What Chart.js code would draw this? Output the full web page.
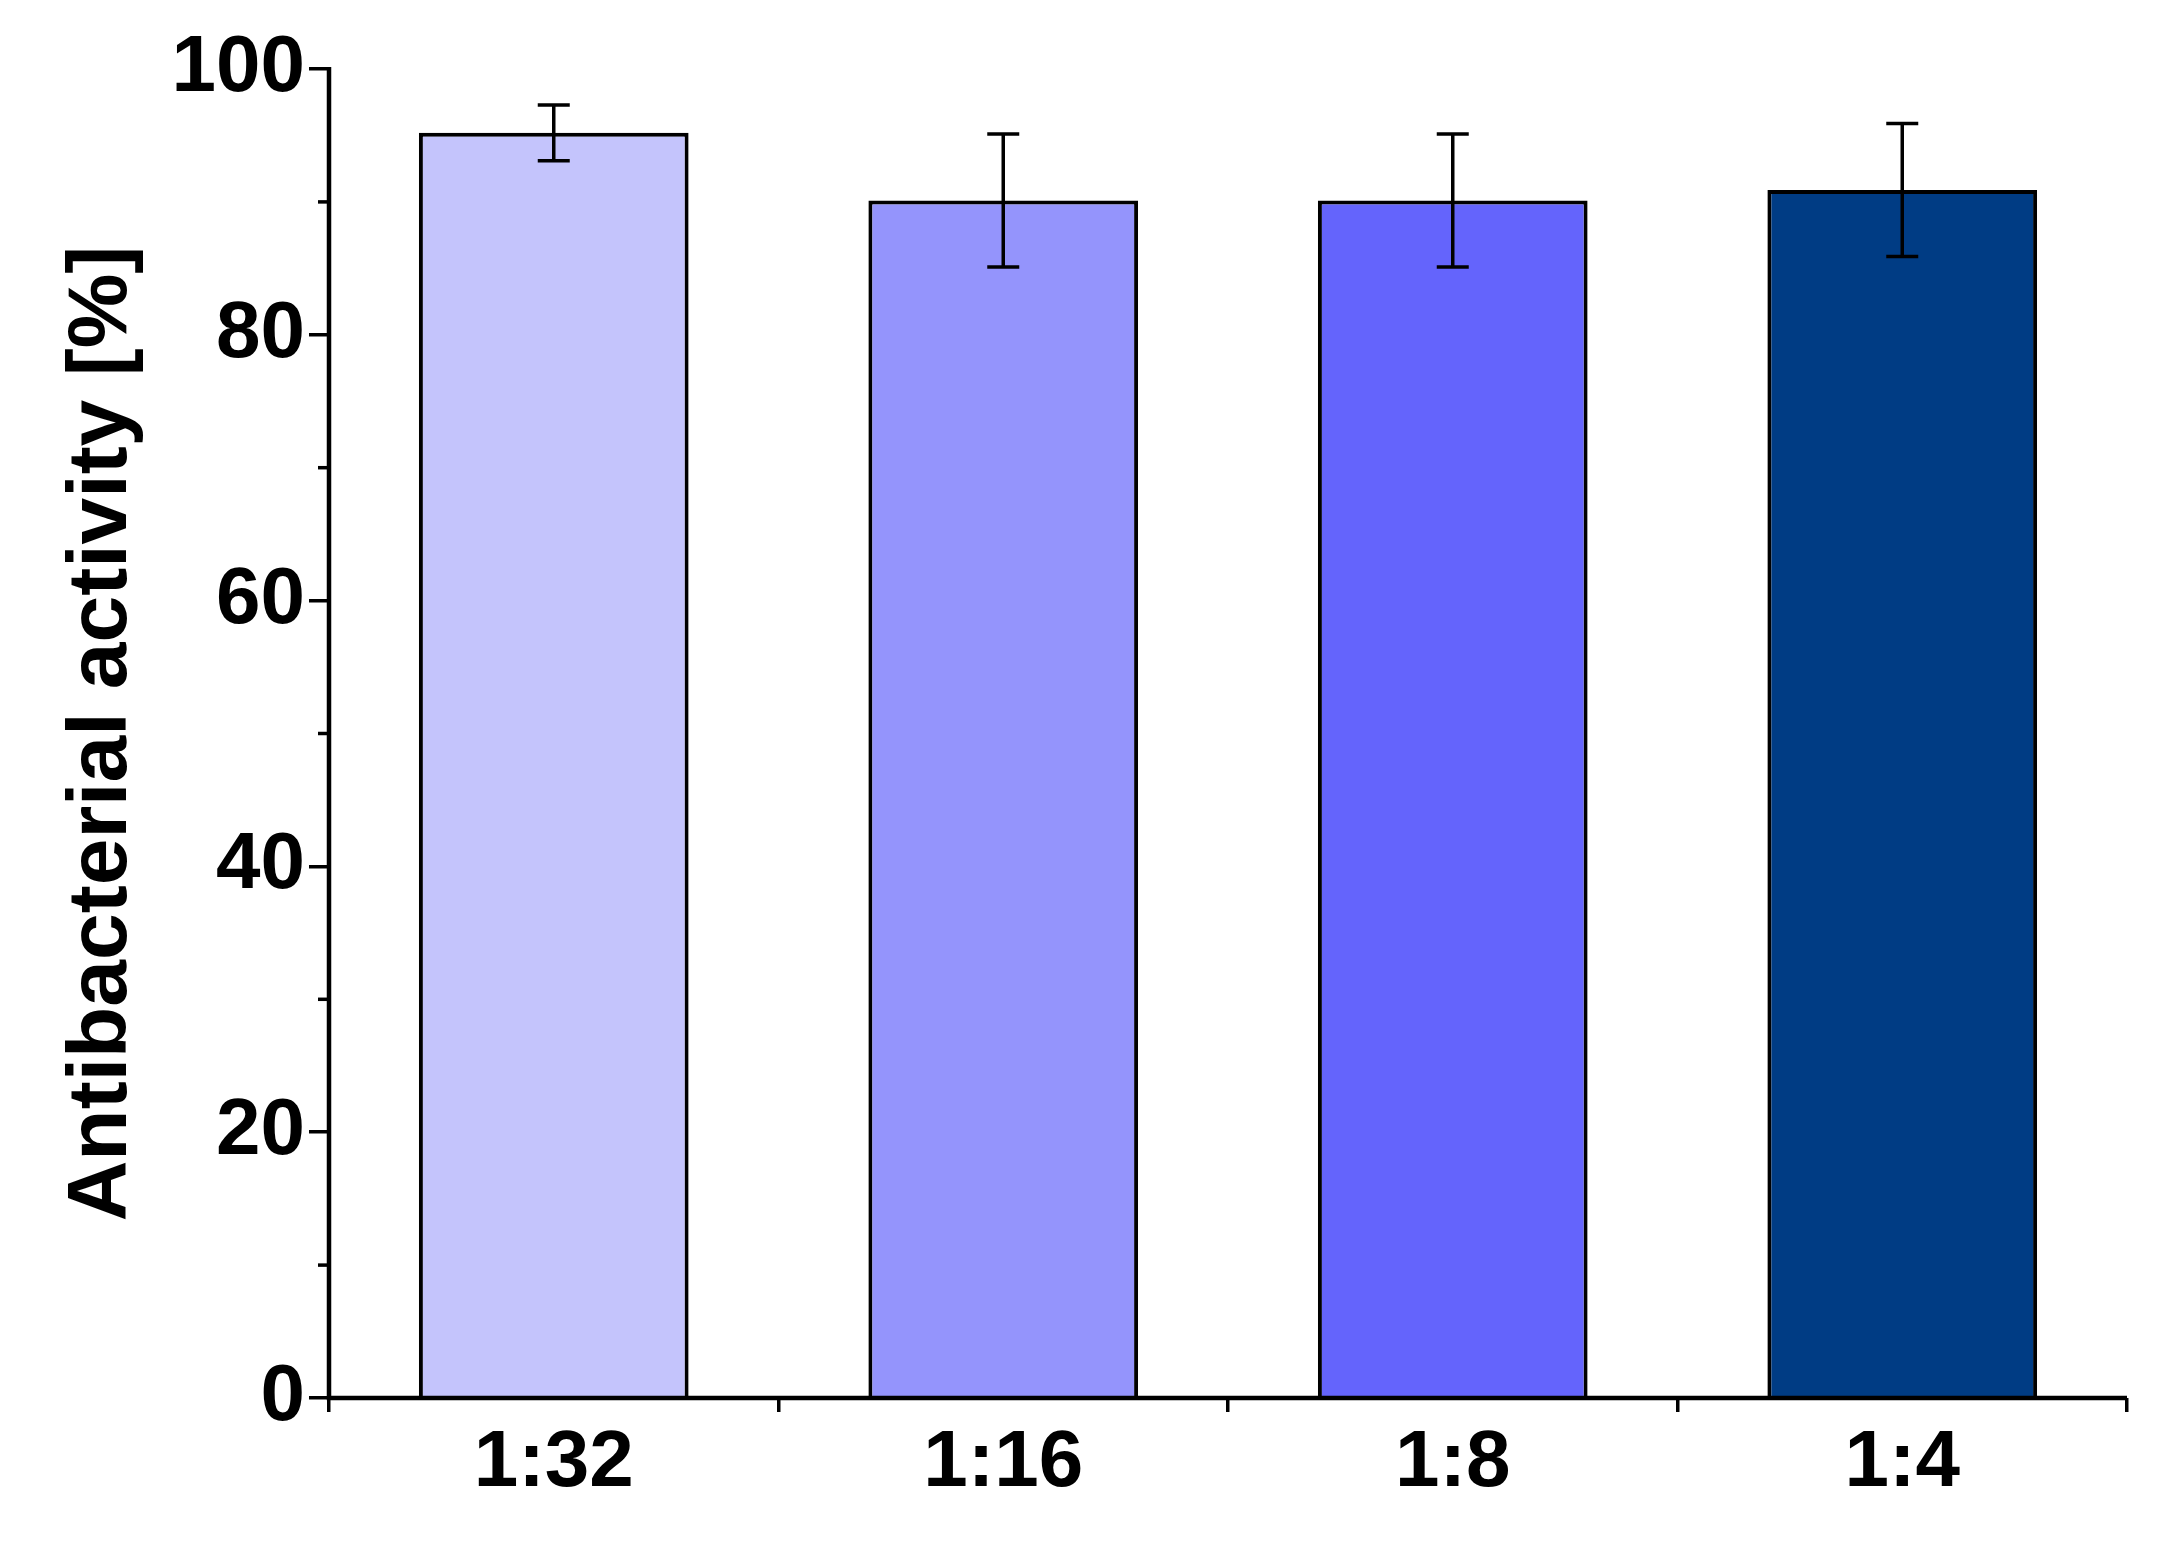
<!DOCTYPE html>
<html><head><meta charset="utf-8">
<script src="https://cdn.jsdelivr.net/npm/chart.js@4"></script>
<style>html,body{margin:0;padding:0;background:#fff}#w{width:2166px;height:1542px}</style>
</head><body><div id="w"><canvas id="c"></canvas></div>
<script>
const categories=["1:32","1:16","1:8","1:4"];
const values=[95.2,90.1,90.1,90.9];
const errors=[2.1,5.0,5.0,5.0];
const colors=["#C4C4FC","#9494FC","#6464FC","#003C84"];
const yTicks=[0,20,40,60,80,100];

const extras={id:'extras',afterDatasetsDraw(ch){
  const ctx=ch.ctx,y=ch.scales.y,x=ch.scales.x;
  ctx.save();ctx.strokeStyle='#000';ctx.lineWidth=3.5;
  const meta=ch.getDatasetMeta(0);
  values.forEach((v,i)=>{
    const px=meta.data[i].x,t=y.getPixelForValue(v+errors[i]),b=y.getPixelForValue(v-errors[i]);
    ctx.beginPath();ctx.moveTo(px,t);ctx.lineTo(px,b);
    ctx.moveTo(px-16,t);ctx.lineTo(px+16,t);ctx.moveTo(px-16,b);ctx.lineTo(px+16,b);ctx.stroke();
  });
  for(let v=10;v<100;v+=20){const py=y.getPixelForValue(v);ctx.beginPath();ctx.moveTo(x.left,py);ctx.lineTo(x.left-11,py);ctx.stroke();}
  ctx.lineWidth=4.5;ctx.beginPath();ctx.moveTo(x.left,y.top-2);ctx.lineTo(x.left,y.bottom);ctx.lineTo(x.right,y.bottom);ctx.stroke();
  ctx.restore();
}};
new Chart(document.getElementById('c'),{type:'bar',
 data:{labels:categories,datasets:[{data:values,backgroundColor:colors,borderColor:'#000',borderWidth:4,barPercentage:0.6,categoryPercentage:1}]},
 options:{responsive:true,maintainAspectRatio:false,animation:false,devicePixelRatio:1,
  layout:{padding:{top:69,right:39,left:0,bottom:0}},
  plugins:{legend:{display:false},tooltip:{enabled:false}},
  scales:{
   x:{offset:true,afterFit(s){s.height=144;},
    grid:{offset:true,drawOnChartArea:false,drawTicks:true,tickLength:14,color:'#000',lineWidth:3.5},
    border:{display:false},
    ticks:{color:'#000',padding:4,font:{family:'Liberation Sans',weight:'bold',size:80}}},
   y:{min:0,max:100,afterFit(s){s.width=329;},afterBuildTicks(s){s.ticks=yTicks.map(v=>({value:v}));},
    grid:{drawOnChartArea:false,tickLength:20,color:'#000',lineWidth:3.5},
    border:{display:false},
    ticks:{color:'#000',padding:4,font:{family:'Liberation Sans',weight:'bold',size:80}},
    title:{display:true,text:'Antibacterial activity [%]',color:'#000',padding:{top:52,bottom:0},font:{family:'Liberation Sans',weight:'bold',size:84}}}
  }},
 plugins:[extras]});
</script></body></html>
